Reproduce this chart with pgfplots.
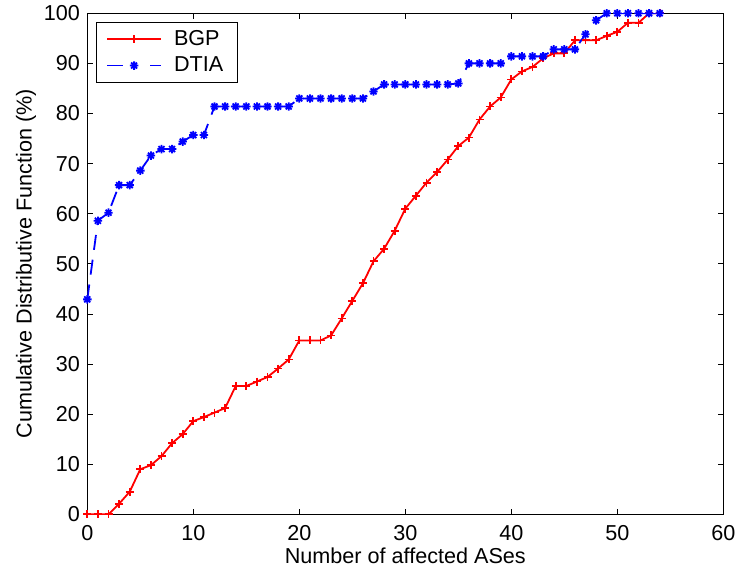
\documentclass[border=0pt]{standalone}
\usepackage{fontspec}
\setmainfont{Liberation Sans}
\usepackage{pgfplots}
\pgfplotsset{compat=1.18}
\pgfdeclareplotmark{mstar}{%
  \pgfpathmoveto{\pgfqpoint{\pgfplotmarksize}{0pt}}\pgfpathlineto{\pgfqpoint{-\pgfplotmarksize}{0pt}}%
  \pgfpathmoveto{\pgfqpoint{0pt}{\pgfplotmarksize}}\pgfpathlineto{\pgfqpoint{0pt}{-\pgfplotmarksize}}%
  \pgfpathmoveto{\pgfqpoint{.707\pgfplotmarksize}{.707\pgfplotmarksize}}\pgfpathlineto{\pgfqpoint{-.707\pgfplotmarksize}{-.707\pgfplotmarksize}}%
  \pgfpathmoveto{\pgfqpoint{-.707\pgfplotmarksize}{.707\pgfplotmarksize}}\pgfpathlineto{\pgfqpoint{.707\pgfplotmarksize}{-.707\pgfplotmarksize}}%
  \pgfusepathqstroke}
\pgfplotstableread{
x y
0 0
1 0
2 0
3 2.1
4 4.5
5 9.0
6 9.8
7 11.6
8 14.2
9 16.0
10 18.6
11 19.4
12 20.3
13 21.2
14 25.6
15 25.6
16 26.5
17 27.4
18 29.1
19 30.9
20 34.7
21 34.7
22 34.7
23 35.7
24 39.1
25 42.6
26 46.1
27 50.5
28 53.0
29 56.6
30 61.0
31 63.6
32 66.2
33 68.3
34 70.8
35 73.5
36 75.2
37 78.8
38 81.4
39 83.2
40 86.8
41 88.4
42 89.3
43 91.0
44 92.0
45 92.0
46 94.6
47 94.6
48 94.6
49 95.5
50 96.3
51 98.1
52 98.1
53 100
54 100
}\bgp
\pgfplotstableread{
x y
0 42.9
1 58.6
2 60.2
3 65.7
4 65.7
5 68.6
6 71.6
7 72.9
8 72.9
9 74.4
10 75.7
11 75.7
12 81.4
13 81.4
14 81.4
15 81.4
16 81.4
17 81.4
18 81.4
19 81.4
20 83.0
21 83.0
22 83.0
23 83.0
24 83.0
25 83.0
26 83.0
27 84.4
28 85.8
29 85.8
30 85.8
31 85.8
32 85.8
33 85.8
34 85.8
35 86.0
36 90.0
37 90.0
38 90.0
39 90.0
40 91.4
41 91.4
42 91.4
43 91.4
44 92.8
45 92.8
46 92.8
47 95.8
48 98.6
49 100
50 100
51 100
52 100
53 100
54 100
}\dtia
\begin{document}
\fontsize{10.8}{13}\selectfont
\begin{tikzpicture}
\begin{axis}[
  name=ax,
  scale only axis, width=318pt, height=250.5pt,
  xmin=0, xmax=60, ymin=0, ymax=100,
  xtick={0,10,...,60}, ytick={0,10,...,100},
  tick align=inside, xtick pos=both, ytick pos=both,
  major tick length=2.8pt,
  tick style={black, line width=0.4pt},
  axis line style={black, line width=0.6pt},
  every tick label/.append style={font=\fontsize{10.8}{13}\selectfont, inner sep=0pt},
  xticklabel style={yshift=-5.3pt},
  yticklabel style={xshift=-3.5pt},
  /pgf/number format/assume math mode=true,
  xlabel={Number of affected ASes},
  ylabel={Cumulative Distributive Function (\%)},
  xlabel style={at={([yshift=-24.6pt]rel axis cs:0.5,0)}, anchor=base},
  ylabel style={at={([xshift=-27.8pt]rel axis cs:0,0.5)}, anchor=base},
  label style={font=\fontsize{10.8}{13}\selectfont},
  legend cell align=left,
  legend style={at={(0,1)}, anchor=north west, xshift=4.2pt, yshift=-4.2pt,
    draw=black, line width=0.5pt,
    font=\fontsize{10.8}{13}\selectfont, row sep=0pt, inner xsep=5pt, inner ysep=2pt,
    /tikz/every odd column/.append style={column sep=4pt}},
  legend image code/.code={\draw[mark repeat=2,mark phase=2] plot coordinates {(0pt,0pt) (13.5pt,0pt) (27pt,0pt)};},
]
\addplot[red, line width=0.9pt, mark=+, mark size=2pt, mark options={solid}] table[x=x,y=y] {\bgp};
\addlegendentry{BGP}
\addplot[blue, line width=0.9pt, dash pattern=on 7.5pt off 5pt, mark=mstar, mark size=2.1pt, mark options={solid}, forget plot] table[x=x,y=y] {\dtia};
\addlegendimage{blue, line width=0.9pt, dash pattern=on 8pt off 13.5pt, mark=mstar, mark size=2.1pt, mark options={solid}}
\addlegendentry{DTIA}
\end{axis}
\pgfresetboundingbox
\path[use as bounding box] ([xshift=-43.65pt,yshift=-28.85pt]ax.south west) rectangle ([xshift=6.85pt,yshift=6.65pt]ax.north east);
\end{tikzpicture}
\end{document}
